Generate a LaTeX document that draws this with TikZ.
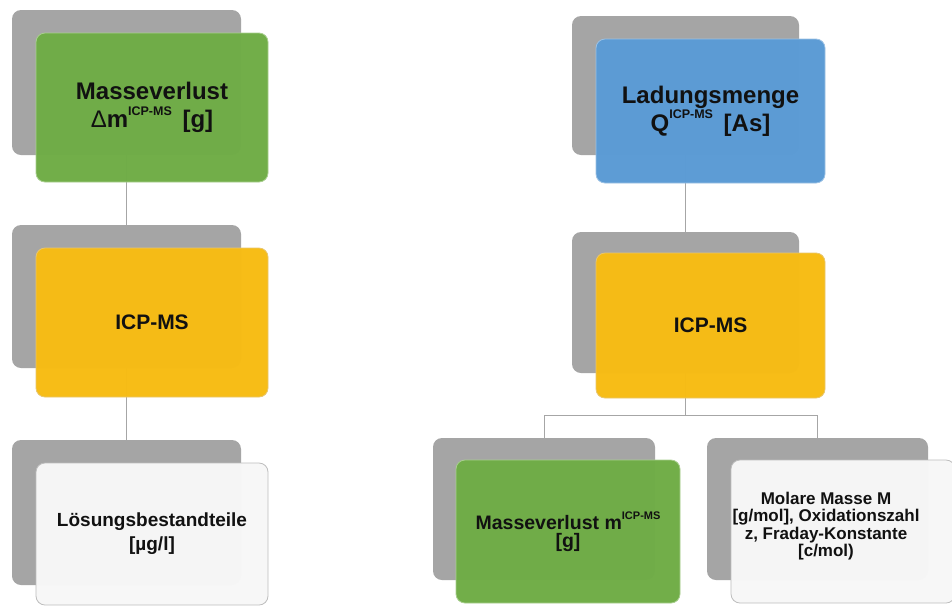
\documentclass[tikz,border=0pt]{standalone}
\usepackage{fontspec}
\setmainfont{Liberation Sans}
\definecolor{boxgrey}{HTML}{A5A5A5}
\definecolor{cgreen}{HTML}{70AD47}
\definecolor{cgreenb}{HTML}{A9CF8F}
\definecolor{cyellow}{HTML}{F7BC14}
\definecolor{cyellowb}{HTML}{E8C66E}
\definecolor{cblue}{HTML}{5B9BD5}
\definecolor{cblueb}{HTML}{9CC2E5}
\definecolor{cwhite}{HTML}{F7F7F7}
\definecolor{cwhiteb}{HTML}{BDBDBD}
\definecolor{connc}{HTML}{A6A6A6}
\definecolor{txt}{HTML}{111111}
\newcommand\supx[1]{\raisebox{0.52em}{\fontsize{12.5}{12.5}\selectfont #1}}
\tikzset{
  greyb/.style={rectangle, rounded corners=9pt, fill=boxgrey, draw=none, inner sep=0pt},
  colb/.style 2 args={rectangle, rounded corners=9pt, fill=#1, draw=#2, line width=0.8pt,
     fill opacity=0.985, draw opacity=1, text opacity=1, inner sep=0pt, align=center, text=txt},
  conn/.style={draw=connc, line width=0.9pt},
  bigt/.style={font=\fontsize{24}{28}\selectfont\bfseries},
  midt/.style={font=\fontsize{21}{24}\selectfont\bfseries},
  lowt/.style={font=\fontsize{19}{24}\selectfont\bfseries},
  smallt/.style={font=\fontsize{19.5}{18}\selectfont\bfseries},
  tinyt/.style={font=\fontsize{17}{17.5}\selectfont\bfseries, align=center, text=txt, inner sep=0pt}
}
\begin{document}
\begin{tikzpicture}[x=1pt, y=-1pt]
\useasboundingbox[fill=white] (0,0) rectangle (952,606);
% grey back boxes
\node[greyb, minimum width=229pt, minimum height=145pt] (g1) at (126.5,82.5) {};
\node[greyb, minimum width=229pt, minimum height=143pt] (g2) at (126.5,296.5) {};
\node[greyb, minimum width=229pt, minimum height=145pt] (g3) at (126.5,512.5) {};
\node[greyb, minimum width=227pt, minimum height=139pt] (g4) at (685.5,85.5) {};
\node[greyb, minimum width=227pt, minimum height=141pt] (g5) at (685.5,302.5) {};
\node[greyb, minimum width=222pt, minimum height=142pt] (g6) at (544,509) {};
\node[greyb, minimum width=221pt, minimum height=142pt] (g7) at (817.5,509) {};
% connectors
\coordinate (br) at (685.5,415);
\draw[conn] (g1.south) -- (g2.north);
\draw[conn] (g2.south) -- (g3.north);
\draw[conn] (g4.south) -- (g5.north);
\draw[conn] (g5.south) -- (br);
\draw[conn] (g6.north) |- (br) -| (g7.north);
% coloured front boxes
\node[colb={cgreen}{cgreenb}, bigt, minimum width=232pt, minimum height=149pt] (c1) at (152,107.5)
  {Masseverlust\\{\mdseries Δ}m\supx{ICP-MS}\ \,[g]};
\node[colb={cyellow}{cyellowb}, midt, minimum width=232pt, minimum height=149pt] (c2) at (152,322.5) {ICP-MS};
\node[colb={cwhite}{cwhiteb}, lowt, minimum width=232pt, minimum height=142pt] (c3) at (152,534)
  {Lösungsbestandteile\\{}[µg/l]};
\node[colb={cblue}{cblueb}, bigt, minimum width=229pt, minimum height=144pt] (c4) at (710.5,111)
  {Ladungsmenge\\Q\supx{ICP-MS}\ \,[As]};
\node[colb={cyellow}{cyellowb}, midt, minimum width=229pt, minimum height=145pt] (c5) at (710.5,325.5) {ICP-MS};
\node[colb={cgreen}{cgreenb}, smallt, minimum width=224pt, minimum height=143pt] (c6) at (568,531.5)
  {Masseverlust m\supx{\fontsize{11}{11}\selectfont ICP-MS}\\{}[g]};
\node[colb={cwhite}{cwhiteb}, minimum width=224pt, minimum height=143pt] (c7) at (843,531.5) {};
\node[tinyt] (t7) at (826,526) {Molare Masse M\\{}[g/mol], Oxidationszahl\\z, Fraday-Konstante\\{}[c/mol)};
\end{tikzpicture}
\end{document}
